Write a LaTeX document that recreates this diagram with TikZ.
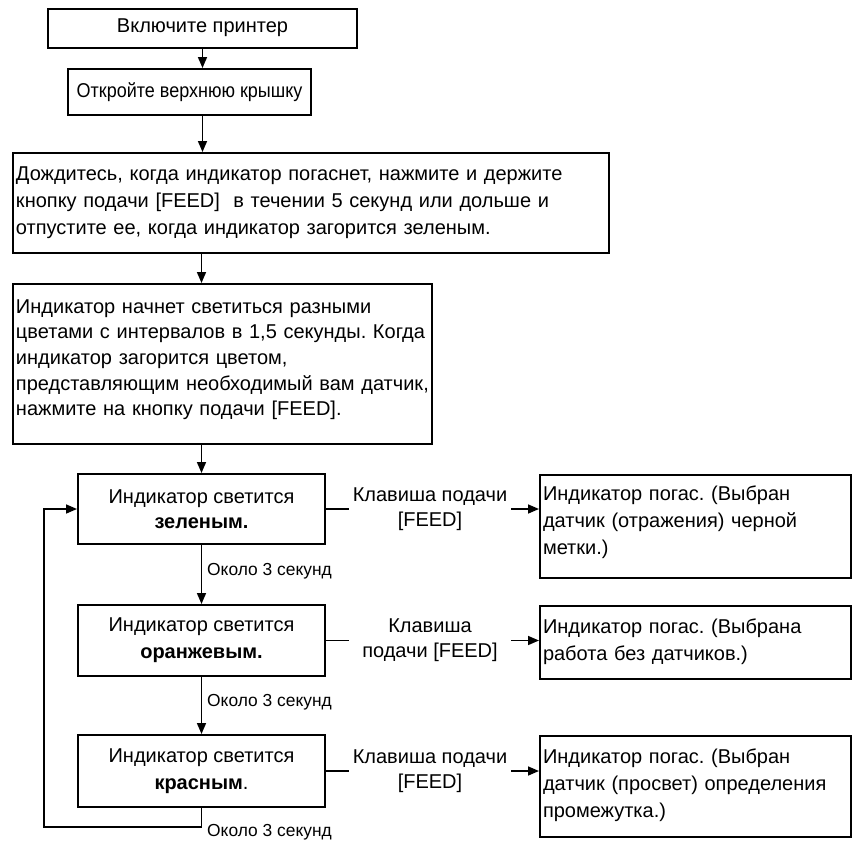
\documentclass[tikz,border=0pt]{standalone}
\usepackage{fontspec}
\setmainfont{Liberation Sans}
\usetikzlibrary{arrows.meta}
\begin{document}
\frenchspacing
\begin{tikzpicture}[x=1pt,y=-1pt,
  every node/.style={inner sep=0pt},
  mainfont/.style={font=\fontsize{20}{27}\selectfont},
  cbox/.style={draw, line width=2pt, mainfont, align=center},
  tbox/.style={draw, line width=2pt, mainfont, align=left, anchor=north west,
    inner xsep=3pt, inner ysep=0pt, text height=27pt},
  lbl/.style={font=\fontsize{20}{25}\selectfont, align=center, minimum width=162pt},
  small/.style={font=\fontsize{17.4}{20}\selectfont, anchor=west},
  arr/.style={line width=1.6pt, -{Triangle[length=11pt,width=9pt]}},
  ln/.style={line width=1.6pt}]
\useasboundingbox (0,0) rectangle (857,841);

\node[cbox, minimum width=309pt, minimum height=39pt] (b1) at (202.5,28) {Включите принтер};
\node[cbox, font=\fontsize{20}{24}\selectfont\addfontfeature{FakeStretch=0.9}, minimum width=243pt, minimum height=46pt] (b2) at (189.5,92) {Откройте верхнюю крышку};
\node[tbox, text width=590pt, text depth=73pt] (b3) at (12,152)
  {Дождитесь, когда индикатор погаснет, нажмите и держите\\
   кнопку подачи [FEED]\ \ в течении 5 секунд или дольше и\\
   отпустите ее, когда индикатор загорится зеленым.};
\node[tbox, font=\fontsize{20}{25.7}\selectfont, text height=29pt, text width=413pt, text depth=131pt] (b4) at (12,283)
  {Индикатор начнет светиться разными\\
   цветами с интервалов в 1,5 секунды. Когда\\
   индикатор загорится цветом,\\
   представляющим необходимый вам датчик,\\
   нажмите на кнопку подачи [FEED].};
\node[cbox, font=\fontsize{20}{25}\selectfont, minimum width=247pt, minimum height=70pt] (b5) at (201.5,509)
  {Индикатор светится\\\textbf{зеленым.}};
\node[cbox, minimum width=247pt, minimum height=71pt] (b6) at (201.5,640.5)
  {Индикатор светится\\\textbf{оранжевым.}};
\node[cbox, minimum width=247pt, minimum height=72pt] (b7) at (201.5,771)
  {Индикатор светится\\\textbf{красным}.};

\node[tbox, text height=25pt, text width=305pt, text depth=78pt] (r1) at (539,474)
  {Индикатор погас. (Выбран\\
   датчик (отражения) черной\\
   метки.)};
\node[tbox, text width=305pt, text depth=46pt] (r2) at (539,605)
  {Индикатор погас. (Выбрана\\
   работа без датчиков.)};
\node[tbox, text width=305pt, text depth=74pt] (r3) at (539,735)
  {Индикатор погас. (Выбран\\
   датчик (просвет) определения\\
   промежутка.)};

\node[lbl] (k1) at (430,509) {Клавиша подачи\\{}[FEED]};
\node[lbl] (k2) at (430,640.5) {Клавиша\\подачи [FEED]};
\node[lbl] (k3) at (430,771) {Клавиша подачи\\{}[FEED]};

\node[small] (t1) at (207,571) {Около 3 секунд};
\node[small] (t2) at (207,702) {Около 3 секунд};
\node[small] (t3) at (207,832) {Около 3 секунд};

\coordinate (loop) at (44,827);

\draw[arr] (b1.south) -- (b1.south |- b2.north);
\draw[arr] (b1.south |- b2.south) -- (b1.south |- b3.north);
\draw[arr] (b5.north |- b3.south) -- (b5.north |- b4.north);
\draw[arr] (b5.north |- b4.south) -- (b5.north);
\draw[arr] (b5.south) -- (b6.north);
\draw[arr] (b6.south) -- (b7.north);
\draw[arr] (b7.south) -- (b7.south |- loop) -- (loop) -- (loop |- b5.west) -- (b5.west);

\draw[ln] (b5.east) -- (k1.west);
\draw[arr] (k1.east) -- (r1.west |- k1.east);
\draw[ln] (b6.east) -- (k2.west);
\draw[arr] (k2.east) -- (r2.west |- k2.east);
\draw[ln] (b7.east) -- (k3.west);
\draw[arr] (k3.east) -- (r3.west |- k3.east);
\end{tikzpicture}
\end{document}
